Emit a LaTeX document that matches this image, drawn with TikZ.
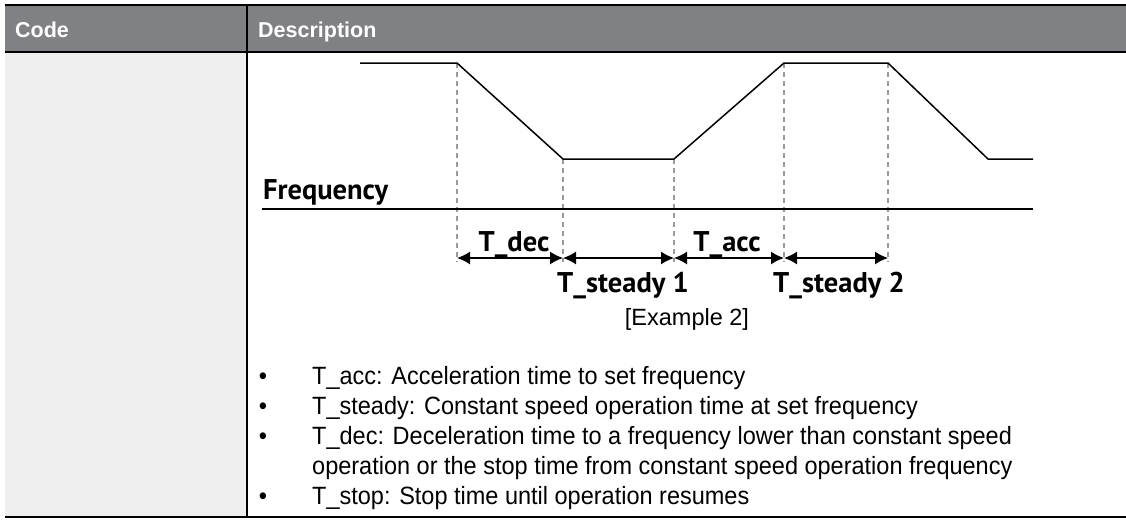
\documentclass[tikz,border=0pt]{standalone}
\usepackage{fontspec}
\setmainfont{Liberation Sans}
\newfontfamily\diagfont{PT Sans}
\newfontfamily\bodyfont[FakeStretch=0.94]{Liberation Sans}
\usetikzlibrary{arrows.meta}
\definecolor{headgrey}{HTML}{808184}
\definecolor{colgrey}{HTML}{EFEFEF}
\definecolor{dashgrey}{HTML}{9A9A9A}
\tikzset{
  rule/.style={line width=2pt,black},
  profile/.style={line width=1.5pt,black,line join=miter},
  guide/.style={line width=1.2pt,dashgrey,dash pattern=on 5pt off 4pt},
  span/.style={line width=1.5pt,black,{Latex[length=13pt,width=13pt]}-{Latex[length=13pt,width=13pt]}},
  headtxt/.style={font=\fontsize{21.5}{24}\selectfont\bfseries,text=white,anchor=base west,inner sep=0pt},
  lbl/.style={font=\diagfont\bfseries\fontsize{28.5}{32}\selectfont,anchor=base,inner sep=0pt},
  bodytxt/.style={font=\bodyfont\fontsize{25}{30}\selectfont,anchor=base west,inner sep=0pt},
}
\begin{document}
\begin{tikzpicture}[x=1pt,y=-1pt]
\useasboundingbox (0,0) rectangle (1126,520);
% table
\fill[colgrey] (5,52) rectangle (247,517);
\fill[headgrey] (5,5) rectangle (1126,52);
\draw[rule] (5,5) -- (1126,5);
\draw[rule] (5,52) -- (1126,52);
\draw[rule] (5,517) -- (1126,517);
\draw[rule] (247,5) -- (247,517);
\node[headtxt] (hcode) at (15,37) {Code};
\node[headtxt] (hdesc) at (258,37) {Description};
% profile points
\coordinate (p0) at (360,63);
\coordinate (p1) at (457,63);
\coordinate (p2) at (563,159);
\coordinate (p3) at (674,159);
\coordinate (p4) at (784,63);
\coordinate (p5) at (888,63);
\coordinate (p6) at (988,159);
\coordinate (p7) at (1033,159);
% arrow row points
\coordinate (a1) at (457,258);
\coordinate (a2) at (563,258);
\coordinate (a3) at (674,258);
\coordinate (a4) at (784,258);
\coordinate (a5) at (888,258);
% guides
\foreach \i in {1,...,5} {\draw[guide] (p\i) -- ([yshift=-4pt]a\i);}
\draw[profile] (p0) -- (p1) -- (p2) -- (p3) -- (p4) -- (p5) -- (p6) -- (p7);
% axis
\coordinate (ax0) at (262,209);
\coordinate (ax1) at (1033,209);
\draw[line width=2pt] (ax0) -- (ax1);
\node[lbl,anchor=base west] (freq) at (263,199) {Frequency};
% spans
\draw[span] (a1) -- (a2);
\draw[span] (a2) -- (a3);
\draw[span] (a3) -- (a4);
\draw[span] (a4) -- (a5);
\node[lbl] (tdec) at (514,251) {T\_dec};
\node[lbl] (tacc) at (727,251) {T\_acc};
\node[lbl] (ts1) at (623,292) {T\_steady 1};
\node[lbl] (ts2) at (839,292) {T\_steady 2};
\node[font=\fontsize{23.5}{26}\selectfont,anchor=base,inner sep=0pt] (ex) at (687,325) {[Example 2]};
% bullets
\foreach \y/\n in {384/b1,414/b2,444/b3,504/b5} {\node[bodytxt,anchor=base] (\n d) at (263,\y) {•};}
\node[bodytxt] (b1) at (312,384) {T\_acc: Acceleration time to set frequency};
\node[bodytxt] (b2) at (312,414) {T\_steady: Constant speed operation time at set frequency};
\node[bodytxt] (b3) at (312,444) {T\_dec: Deceleration time to a frequency lower than constant speed};
\node[bodytxt] (b4) at (312,474) {operation or the stop time from constant speed operation frequency};
\node[bodytxt] (b5) at (312,504) {T\_stop: Stop time until operation resumes};
\end{tikzpicture}
\end{document}
